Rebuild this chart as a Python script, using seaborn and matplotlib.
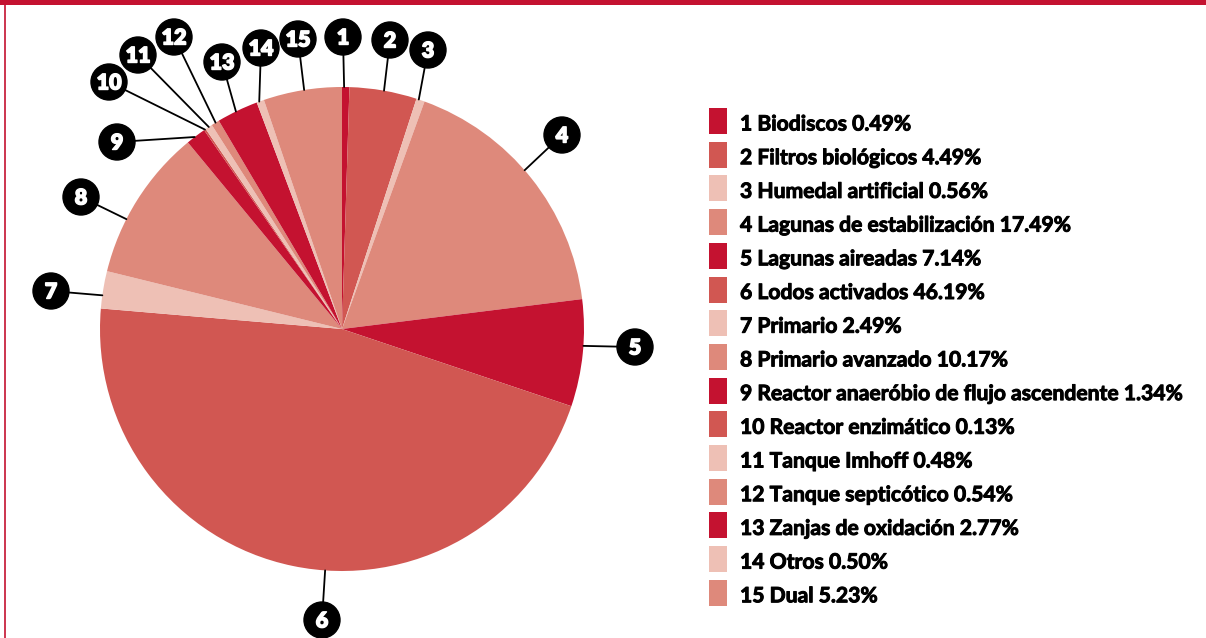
import numpy as np
import matplotlib
matplotlib.use("Agg")
import matplotlib.pyplot as plt
from matplotlib.patches import Rectangle, Circle
import matplotlib.patheffects as pe
import seaborn as sns

# Treatment types and their share of plants (%)
numbers = list(range(1, 16))
names = [
    "Biodiscos", "Filtros biológicos", "Humedal artificial",
    "Lagunas de estabilización", "Lagunas aireadas", "Lodos activados",
    "Primario", "Primario avanzado", "Reactor anaeróbio de flujo ascendente",
    "Reactor enzimático", "Tanque Imhoff", "Tanque septicótico",
    "Zanjas de oxidación", "Otros", "Dual",
]
shares = [0.49, 4.49, 0.56, 17.49, 7.14, 46.19, 2.49, 10.17, 1.34,
          0.13, 0.48, 0.54, 2.77, 0.50, 5.23]

# Four-tone red palette; each category picks one tone
base_tones = ["#C41230", "#D15752", "#EEC0B5", "#DE897B"]
tone_index = [0, 1, 2, 3, 0, 1, 2, 3, 0, 1, 2, 3, 0, 2, 3]
palette = sns.color_palette(base_tones)
colors = [palette[k] for k in tone_index]

# Layout (pixel space): pie centre/radius, callout bubble spots and
# where each leader touches the rim (degrees clockwise from 12 o'clock)
CX, CY, R = 342, 329, 242
bubble_xy = [(343, 37), (390, 40), (428, 50), (562, 135), (635, 347),
             (322, 620), (51, 291), (81, 197), (117, 142), (109, 82),
             (138, 55), (174, 37), (222, 62), (261, 48), (298, 39)]
rim_angle = [0.5, 10, 18.5, 49, 94, 184, 278, 297, 322.5, 325.5,
             326.6, 328.5, 334, 340, 351]

sns.set_theme(style="white")
plt.rcParams["font.family"] = ["Lato", "DejaVu Sans"]

W, H = 1206, 638
fig = plt.figure(figsize=(W / 100, H / 100), dpi=100)
ax = fig.add_axes([0, 0, 1, 1])

# y axis points down, so counter-clockwise in data is clockwise on screen
ax.pie(shares, colors=colors, startangle=-90, counterclock=True,
       center=(CX, CY), radius=R, frame=True,
       wedgeprops=dict(linewidth=0))

ax.set_xlim(0, W)
ax.set_ylim(H, 0)
ax.set_aspect("equal")
ax.axis("off")

# Frame: thick top bar and a thin left rule
ax.add_patch(Rectangle((0, 0), W, 5, color="#C41230", zorder=5, lw=0))
ax.plot([4.5, 4.5], [0, H], color="#C41230", lw=1.2, zorder=5,
        solid_capstyle="butt")

# Numbered callouts
for num, (bx, by), a in zip(numbers, bubble_xy, rim_angle):
    t = np.deg2rad(a)
    ex, ey = CX + R * np.sin(t), CY - R * np.cos(t)
    ax.plot([bx, ex], [by, ey], color="black", lw=1.3, zorder=3)
    ax.add_patch(Circle((bx, by), 18, color="black", zorder=4))
    ax.text(bx, by + 1, str(num), color="white", fontsize=15.5,
            fontweight="heavy", ha="center", va="center", zorder=6,
            path_effects=[pe.withStroke(linewidth=1.0, foreground="white")])

# Legend
x0, y0, step = 709, 121, 33.7
for i, (num, name, val) in enumerate(zip(numbers, names, shares)):
    yc = y0 + i * step
    ax.add_patch(Rectangle((x0, yc - 13), 18, 26, color=colors[i], lw=0))
    ax.text(740, yc + 9.5, f"{num} {name} {val:.2f}%", fontsize=15.2,
            fontweight="bold", color="black", ha="left", va="baseline",
            path_effects=[pe.withStroke(linewidth=0.7, foreground="black")])

fig.savefig("out.png", dpi=100)
